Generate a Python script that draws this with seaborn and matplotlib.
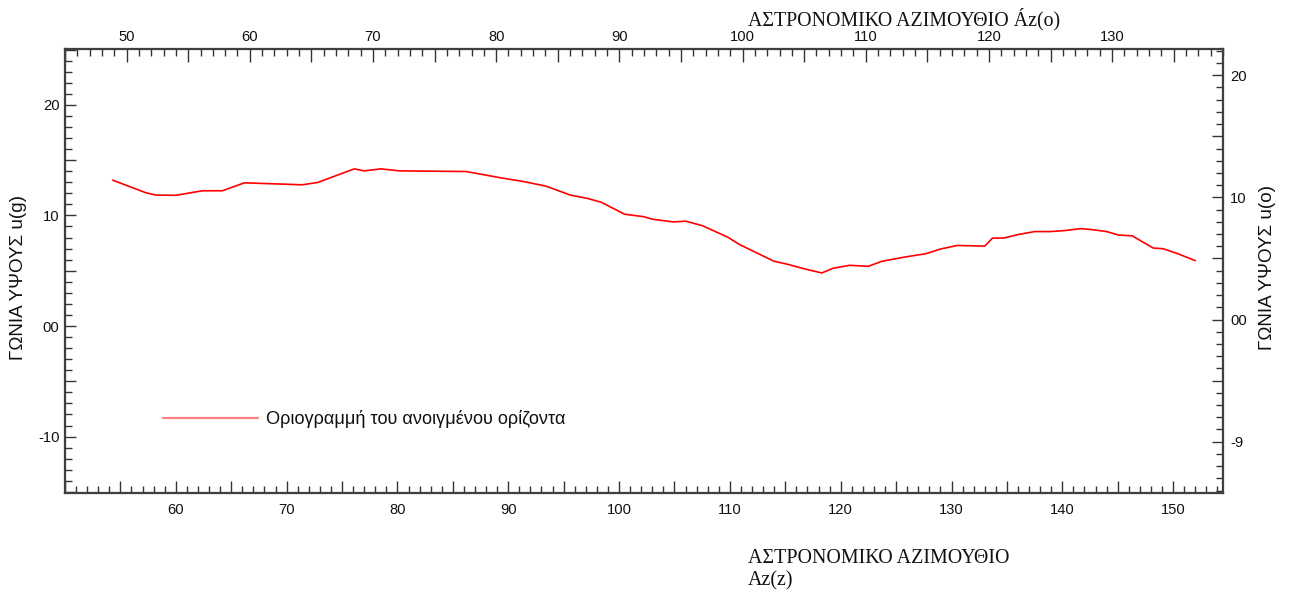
import matplotlib
matplotlib.use("Agg")
import matplotlib.pyplot as plt
import seaborn as sns
import pandas as pd
from matplotlib.ticker import MultipleLocator, FuncFormatter
from matplotlib.lines import Line2D

# ---- data ----
azimuth = [54.3, 57.3, 58.2, 60.0, 62.4, 64.2, 66.2, 71.4, 72.8, 76.1, 77.0, 78.5,
           80.2, 86.2, 89.5, 91.3, 93.4, 95.6, 97.1, 98.4, 100.5, 102.2, 103.0,
           104.9, 106.0, 107.5, 109.8, 110.9, 114.0, 115.1, 117.0, 118.3, 119.3,
           120.8, 122.5, 123.7, 125.8, 127.7, 129.0, 130.5, 133.0, 133.7, 134.7,
           136.0, 137.5, 138.9, 140.2, 141.7, 142.9, 144.0, 145.1, 146.3, 148.2,
           149.1, 150.5, 152.0]
elevation = [13.19, 12.05, 11.84, 11.82, 12.23, 12.23, 12.95, 12.77, 12.98, 14.21,
             14.03, 14.21, 14.03, 13.97, 13.37, 13.08, 12.65, 11.84, 11.55, 11.19,
             10.11, 9.89, 9.66, 9.41, 9.48, 9.08, 8.04, 7.35, 5.85, 5.61, 5.10,
             4.80, 5.22, 5.49, 5.40, 5.85, 6.24, 6.54, 6.96, 7.28, 7.23, 7.95,
             7.95, 8.27, 8.54, 8.54, 8.63, 8.81, 8.69, 8.54, 8.22, 8.16, 7.05,
             6.99, 6.51, 5.91]

left_tick_values = [20, 10, 0, -10]
left_tick_labels = ["20", "10", "00", "-10"]
right_tick_values = [20, 10, 0, -10]
right_tick_labels = ["20", "10", "00", "-9"]

legend_label = "Οριογραμμή του ανοιγμένου ορίζοντα"
top_title = "ΑΣΤΡΟΝΟΜΙΚΟ ΑΖΙΜΟΥΘΙΟ Áz(o)"
bottom_title_1 = "ΑΣΤΡΟΝΟΜΙΚΟ ΑΖΙΜΟΥΘΙΟ"
bottom_title_2 = "Az(z)"
left_label = "ΓΩΝΙΑ ΥΨΟΥΣ u(g)"
right_label = "ΓΩΝΙΑ ΥΨΟΥΣ u(o)"

df = pd.DataFrame({"az": azimuth, "u": elevation})

sns.set_theme(style="white")
plt.rcParams["font.family"] = ["Liberation Sans", "DejaVu Sans"]

W, H = 1292, 591
fig = plt.figure(figsize=(W / 100, H / 100), dpi=100)
L, R, T, B = 65, 1223, 49, 493
ax = fig.add_axes([L / W, 1 - B / H, (R - L) / W, (B - T) / H])
ax.patch.set_alpha(0)

sns.lineplot(data=df, x="az", y="u", ax=ax, color="#ff0000", lw=1.2,
             legend=False, sort=False)
ax.set_xlim(50, 154.5)
ax.set_ylim(-15.1, 25.05)
ax.set_xlabel("")
ax.set_ylabel("")

ax_top = ax.twiny()
ax_top.set_xlim(45, 139)
ax_right = ax.twinx()
ax_right.set_ylim(-14.2, 22.15)

spine_col = "#404040"
tick_col = "#333333"
lab_col = "#111111"
lab_size = 10.6

for a in (ax, ax_top, ax_right):
    for s in a.spines.values():
        s.set_color(spine_col)
        s.set_linewidth(1.5)
        s.set_visible(True)

def fmt10(v, pos):
    return str(int(round(v))) if round(v) % 10 == 0 else ""

# bottom axis
ax.xaxis.set_major_locator(MultipleLocator(5))
ax.xaxis.set_minor_locator(MultipleLocator(1))
ax.xaxis.set_major_formatter(FuncFormatter(lambda v, p: fmt10(v, p) if v >= 60 else ""))
ax.tick_params(axis="x", which="both", direction="in", bottom=True, top=False,
               colors=tick_col, labelcolor=lab_col, labelsize=lab_size, pad=7)
ax.tick_params(axis="x", which="major", length=9, width=1)
ax.tick_params(axis="x", which="minor", length=5, width=1)

# left axis
ax.yaxis.set_major_locator(MultipleLocator(5))
ax.yaxis.set_minor_locator(MultipleLocator(1))
left_map = dict(zip(left_tick_values, left_tick_labels))
ax.yaxis.set_major_formatter(FuncFormatter(lambda v, p: left_map.get(int(round(v)), "")))
ax.tick_params(axis="y", which="both", direction="in", left=True, right=False,
               colors=tick_col, labelcolor=lab_col, labelsize=lab_size, pad=4)
ax.tick_params(axis="y", which="major", length=8, width=1)
ax.tick_params(axis="y", which="minor", length=5, width=1)

# top axis
ax_top.xaxis.set_major_locator(MultipleLocator(5))
ax_top.xaxis.set_minor_locator(MultipleLocator(1))
ax_top.xaxis.set_major_formatter(FuncFormatter(lambda v, p: fmt10(v, p) if v >= 50 else ""))
ax_top.tick_params(axis="x", which="both", direction="in", colors=tick_col,
                   labelcolor=lab_col, labelsize=lab_size, pad=3.5)
ax_top.tick_params(axis="x", which="major", length=9, width=1)
ax_top.tick_params(axis="x", which="minor", length=5, width=1)

# right axis
ax_right.yaxis.set_major_locator(MultipleLocator(5))
ax_right.yaxis.set_minor_locator(MultipleLocator(1))
right_map = dict(zip(right_tick_values, right_tick_labels))
ax_right.yaxis.set_major_formatter(FuncFormatter(lambda v, p: right_map.get(int(round(v)), "")))
ax_right.tick_params(axis="y", which="both", direction="in", colors=tick_col,
                     labelcolor=lab_col, labelsize=lab_size, pad=5)
ax_right.tick_params(axis="y", which="major", length=8, width=1)
ax_right.tick_params(axis="y", which="minor", length=5, width=1)

for a in (ax, ax_top, ax_right):
    a.grid(False)

# legend
handle = Line2D([], [], color="#ff8080", lw=1.6)
ax.legend(handles=[handle], labels=[legend_label], loc="center left",
          bbox_to_anchor=((163 - L) / (R - L), 1 - (419 - T) / (B - T)),
          frameon=False, handlelength=5.2, handletextpad=0.45, borderpad=0,
          borderaxespad=0, fontsize=13.1, labelcolor=lab_col)

# titles / labels
serif = ["Liberation Serif", "DejaVu Serif"]
fig.text(748 / W, 1 - 25 / H, top_title, ha="left", va="baseline",
         family=serif, size=14.3, color=lab_col)
fig.text(748 / W, 1 - 563 / H, bottom_title_1, ha="left", va="baseline",
         family=serif, size=14.4, color=lab_col)
fig.text(748 / W, 1 - 585 / H, bottom_title_2, ha="left", va="baseline",
         family=serif, size=14.4, color=lab_col)
fig.text(19 / W, 1 - 277 / H, left_label, ha="center", va="center",
         rotation=90, size=13.6, color=lab_col)
fig.text(1268 / W, 1 - 268 / H, right_label, ha="center", va="center",
         rotation=90, size=13.6, color=lab_col)

fig.savefig("out.png", dpi=100, facecolor="white")
